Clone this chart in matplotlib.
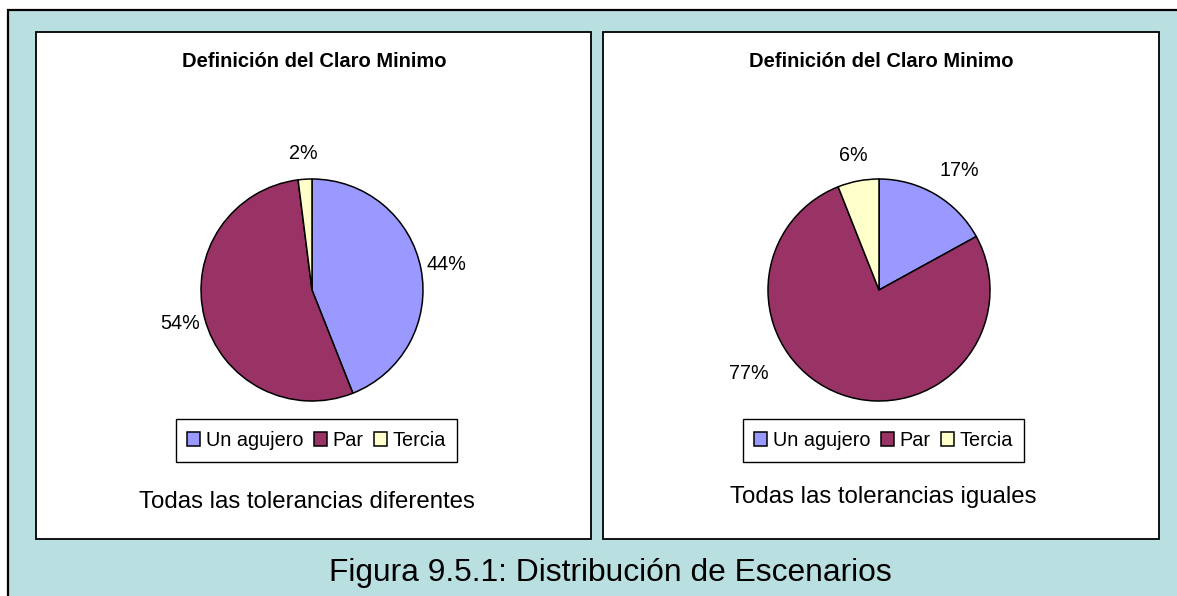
import matplotlib
matplotlib.use("Agg")
import matplotlib.pyplot as plt
from matplotlib.patches import Rectangle
import numpy as np

# ---------------- data ----------------
categories = ["Un agujero", "Par", "Tercia"]
values_diferentes = [44, 54, 2]
values_iguales = [17, 77, 6]
chart_title = "Definición del Claro Minimo"
subtitle_left = "Todas las tolerancias diferentes"
subtitle_right = "Todas las tolerancias iguales"
caption = "Figura 9.5.1: Distribución de Escenarios"

# ---------------- style ----------------
colors = ["#9999FF", "#993366", "#FFFFCC"]
bg = "#B9DFE1"
W, H = 1177, 596
FONT = "Liberation Sans"

fig = plt.figure(figsize=(W / 100, H / 100), dpi=100)
fig.patch.set_facecolor("white")


def fx(x):
    return x / W


def fy(y):
    return 1 - y / H


# outer background box
fig.patches.append(Rectangle((fx(7.5), fy(600)), fx(1185) - fx(7.5), fy(10) - fy(600),
                             transform=fig.transFigure, facecolor=bg,
                             edgecolor="black", linewidth=1.6, zorder=0))

panels = [
    dict(x0=35.5, x1=591, cx=312, values=values_diferentes, sub=subtitle_left,
         sub_x=307, sub_y=508, leg_x=316.5, overrides={}),
    dict(x0=603, x1=1158.5, cx=879, values=values_iguales, sub=subtitle_right,
         sub_x=883, sub_y=503, leg_x=883.5, overrides={1: (212.6, 1.39), 0: (56.0, 1.30)}),
]
y0, y1 = 32, 538.5
cy, R = 290, 111

for p in panels:
    fig.patches.append(Rectangle((fx(p["x0"]), fy(y1)), fx(p["x1"]) - fx(p["x0"]),
                                 fy(y0) - fy(y1), transform=fig.transFigure,
                                 facecolor="white", edgecolor="black",
                                 linewidth=1.3, zorder=1))
    fig.text(fx((p["x0"] + p["x1"]) / 2 + 0.5), fy(67), chart_title, ha="center",
             va="baseline", fontsize=14.5, fontweight="bold", family=FONT)
    fig.text(fx(p["sub_x"]), fy(p["sub_y"]), p["sub"], ha="center", va="baseline",
             fontsize=17.3, family=FONT)

    ax = fig.add_axes([fx(p["cx"] - R), fy(cy + R), fx(2 * R), fy(cy - R) - fy(cy + R)])
    ax.set_zorder(2)
    wedges, _ = ax.pie(p["values"], colors=colors, startangle=90, counterclock=False,
                       radius=1, wedgeprops=dict(edgecolor="black", linewidth=1.1))
    ax.set_xlim(-1, 1)
    ax.set_ylim(-1, 1)
    ax.set_aspect("equal")
    ax.axis("off")
    total = sum(p["values"])
    for i, (w, v) in enumerate(zip(wedges, p["values"])):
        ang = (w.theta1 + w.theta2) / 2
        dist = 1.23
        if i in p["overrides"]:
            ang, dist = p["overrides"][i]
        t = np.deg2rad(ang)
        ax.text(dist * np.cos(t), dist * np.sin(t), f"{round(100 * v / total)}%",
                ha="center", va="center", fontsize=14.2, family=FONT, clip_on=False)

    leg = ax.legend(wedges, categories, loc="center", ncol=3,
                    bbox_to_anchor=(fx(p["leg_x"]), fy(440.5)),
                    bbox_transform=fig.transFigure, frameon=True, fancybox=False,
                    edgecolor="black", framealpha=1, handlelength=0.66,
                    handleheight=0.72, handletextpad=0.3, columnspacing=0.5,
                    borderpad=0.58, borderaxespad=0,
                    prop=dict(family=FONT, size=14.3))
    leg.get_frame().set_linewidth(1.0)

fig.text(fx(610), fy(581), caption, ha="center", va="baseline", fontsize=22.9,
         family=FONT)

fig.savefig("out.png", dpi=100)
